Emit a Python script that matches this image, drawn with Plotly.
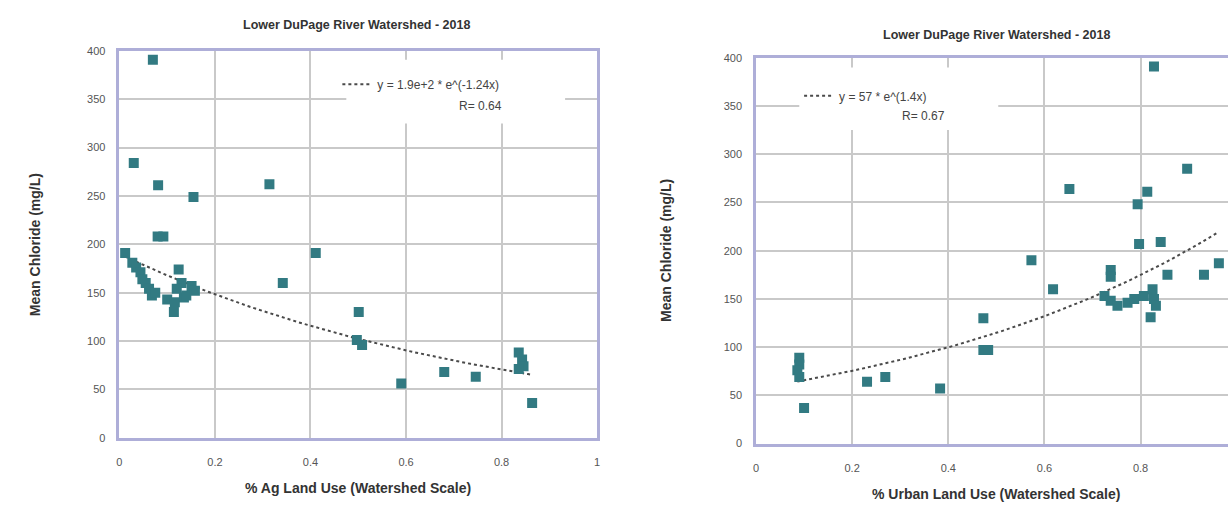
import numpy as np
import plotly.graph_objects as go

# Mean chloride vs. % agricultural land use (watershed scale)
ag_x = [0.070, 0.030, 0.081, 0.314, 0.155, 0.080, 0.092, 0.012, 0.027, 0.035,
        0.044, 0.048, 0.055, 0.062, 0.068, 0.075, 0.100, 0.124, 0.130, 0.120,
        0.135, 0.116, 0.114, 0.151, 0.158, 0.140, 0.342, 0.411, 0.501, 0.497,
        0.508, 0.590, 0.680, 0.746, 0.836, 0.843, 0.846, 0.836, 0.864]
ag_y = [391, 284, 261, 262, 249, 208, 208, 191, 181, 176,
        171, 164, 160, 154, 147, 150, 143, 174, 160, 154,
        145, 140, 130, 157, 152, 147, 160, 191, 130, 101,
        96, 56, 68, 63, 88, 81, 74, 71, 36]

# Mean chloride vs. % urban land use (watershed scale)
ur_x = [0.090, 0.090, 0.086, 0.090, 0.100, 0.231, 0.269, 0.383, 0.473, 0.483,
        0.473, 0.573, 0.618, 0.652, 0.738, 0.738, 0.725, 0.738, 0.752, 0.773,
        0.787, 0.807, 0.825, 0.828, 0.832, 0.821, 0.856, 0.932, 0.963, 0.797,
        0.842, 0.828, 0.814, 0.794, 0.897]
ur_y = [89, 82, 76, 69, 37, 64, 69, 57, 97, 97,
        130, 190, 160, 264, 180, 173, 153, 148, 143, 146,
        150, 153, 160, 150, 143, 131, 175, 175, 187, 207,
        209, 391, 261, 248, 285]

# Exponential fits y = a * exp(b x)
ag_fit = {"a": 190.0, "b": -1.24, "r": 0.64}
ur_fit = {"a": 57.0, "b": 1.4, "r": 0.67}

y_ticks = [0, 50, 100, 150, 200, 250, 300, 350, 400]

TITLE = "Lower DuPage River Watershed - 2018"
Y_TITLE = "Mean Chloride (mg/L)"
AG_X_TITLE = "% Ag Land Use (Watershed Scale)"
UR_X_TITLE = "% Urban Land Use (Watershed Scale)"

W, H = 1231, 515
FONT = "Arial, Liberation Sans, sans-serif"
MARKER = "#327a82"
GRID = "#c9c9c9"
FRAME = "#aeaed8"


def px_x(p):
    return p / W


def px_y(p):
    return 1 - p / H


def fit_curve(xs, fit):
    xx = np.linspace(min(xs), max(xs), 100)
    return xx, fit["a"] * np.exp(fit["b"] * xx)


fig = go.Figure()

fx, fy = fit_curve(ag_x, ag_fit)
fig.add_trace(go.Scatter(x=fx, y=fy, mode="lines", xaxis="x", yaxis="y",
                         line=dict(color="#4a4a4a", width=2, dash="dot"),
                         name="y = 1.9e+2 * e^(%.2fx)" % ag_fit["b"],
                         legend="legend", showlegend=True))
fig.add_trace(go.Scatter(x=ag_x, y=ag_y, mode="markers", xaxis="x", yaxis="y",
                         marker=dict(symbol="square", size=10, color=MARKER),
                         showlegend=False))

fx, fy = fit_curve(ur_x, ur_fit)
fig.add_trace(go.Scatter(x=fx, y=fy, mode="lines", xaxis="x2", yaxis="y2",
                         line=dict(color="#4a4a4a", width=2, dash="dot"),
                         name="y = %d * e^(%.1fx)" % (ur_fit["a"], ur_fit["b"]),
                         legend="legend2", showlegend=True))
fig.add_trace(go.Scatter(x=ur_x, y=ur_y, mode="markers", xaxis="x2", yaxis="y2",
                         marker=dict(symbol="square", size=10, color=MARKER),
                         showlegend=False))

axis_common = dict(showgrid=True, gridcolor=GRID, gridwidth=2,
                   showline=True, linecolor=FRAME, linewidth=2.5,
                   zeroline=False, ticks="",
                   tickfont=dict(family=FONT, size=11, color="#555555"))

legend_font = dict(family=FONT, size=12, color="#444444")

fig.update_layout(
    width=W, height=H,
    margin=dict(l=0, r=0, t=0, b=0),
    paper_bgcolor="white", plot_bgcolor="white",
    font=dict(family=FONT),
    xaxis=dict(domain=[px_x(117), px_x(597)], range=[0, 1], dtick=0.2,
               anchor="y", mirror=True, ticklabelstandoff=12, **axis_common),
    yaxis=dict(domain=[px_y(442), px_y(46)], range=[0, 400], tickvals=y_ticks,
               anchor="x", mirror=True, ticklabelstandoff=9, **axis_common),
    xaxis2=dict(domain=[px_x(756.7), 1.0], range=[0, (W - 756.7) / 483.0],
                dtick=0.2, anchor="y2", mirror=True, ticklabelstandoff=12,
                **axis_common),
    yaxis2=dict(domain=[px_y(448), px_y(53)], range=[0, 400], tickvals=y_ticks,
                anchor="x2", mirror=False, ticklabelstandoff=9, **axis_common),
    legend=dict(x=px_x(336), y=px_y(80), xanchor="left", yanchor="middle",
                bgcolor="rgba(0,0,0,0)", font=legend_font, itemwidth=30),
    legend2=dict(x=px_x(800), y=px_y(92), xanchor="left", yanchor="middle",
                 bgcolor="rgba(0,0,0,0)", font=legend_font, itemwidth=30),
)

# white panels behind the fit legends
fig.add_shape(type="rect", xref="x", yref="y", x0=0.475, x1=0.933, y0=325, y1=391,
              fillcolor="white", line=dict(width=0), layer="above")
fig.add_shape(type="rect", xref="x2", yref="y2", x0=0.09, x1=0.504, y0=325, y1=390,
              fillcolor="white", line=dict(width=0), layer="above")

title_font = dict(family=FONT, size=12.5, color="#333333")
axis_title_font = dict(family=FONT, size=14, color="#333333")


def label(text, xp, yp, font, angle=0):
    return dict(text=text, x=px_x(xp), y=px_y(yp), xref="paper", yref="paper",
                xanchor="center", yanchor="middle", showarrow=False,
                textangle=angle, font=font)


ann = [
    label("<b>%s</b>" % TITLE, 355, 19, title_font),
    label("<b>%s</b>" % TITLE, 998, 30, title_font),
    label("<b>%s</b>" % AG_X_TITLE, 357, 494, axis_title_font),
    label("<b>%s</b>" % UR_X_TITLE, 998, 500, axis_title_font),
    label("<b>%s</b>" % Y_TITLE, 32, 244, axis_title_font, -90),
    label("<b>%s</b>" % Y_TITLE, 666, 250, axis_title_font, -90),
    label("R= %.2f" % ag_fit["r"], 480, 102, legend_font),
    label("R= %.2f" % ur_fit["r"], 925, 113, legend_font),
]
fig.update_layout(annotations=ann)

fig.write_html("out.html")
